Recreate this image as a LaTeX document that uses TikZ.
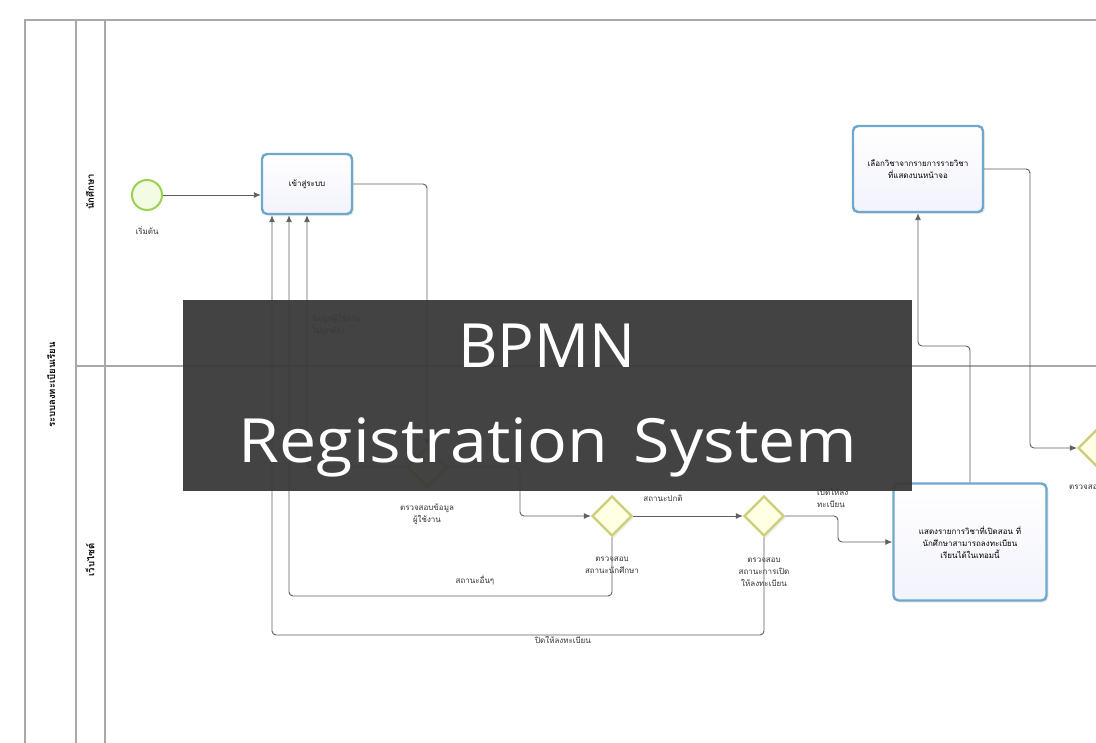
\documentclass[tikz,border=0pt]{standalone}
\usepackage{fontspec}
\setmainfont{Open Sans}
\newfontfamily\thaifont[Script=Thai]{Loma}
\usetikzlibrary{arrows.meta,calc,shadows,shapes.geometric}
\definecolor{poolline}{HTML}{A8A8A8}
\definecolor{flowline}{HTML}{606060}
\definecolor{taskedge}{HTML}{6FA8CC}
\definecolor{taskfill}{HTML}{F2F3FC}
\definecolor{gwedge}{HTML}{CDCD7A}
\definecolor{gwfill}{HTML}{FFFFE4}
\definecolor{evedge}{HTML}{9CD155}
\definecolor{evfill}{HTML}{F3FBE3}
\definecolor{bannerfill}{HTML}{383838}
\tikzset{
  poolstroke/.style={draw=poolline,line width=1.3pt},
  taskbox/.style={draw=taskedge,line width=2.4pt,rounded corners=5pt,
    top color=white,bottom color=taskfill,minimum width=#1,
    drop shadow={shadow xshift=2pt,shadow yshift=-2pt,opacity=0.15},
    align=center,font=\thaifont\fontsize{8}{12}\selectfont,inner sep=2pt},
  gateway/.style={draw=gwedge,line width=2.2pt,fill=gwfill,
    minimum width=40pt,minimum height=40pt,inner sep=0pt,
    shape=diamond,aspect=1,
    drop shadow={shadow xshift=2pt,shadow yshift=-2pt,opacity=0.15}},
  startev/.style={circle,draw=evedge,line width=2pt,fill=evfill,
    minimum size=30pt,inner sep=0pt},
  flow/.style={draw=flowline,line width=0.9pt,rounded corners=4pt,
    -{Latex[length=7pt,width=6pt]}},
  lbl/.style={font=\thaifont\fontsize{8}{12}\selectfont,align=center,
    inner sep=1pt,text=black!80},
  lanelbl/.style={font=\thaifont\bfseries\fontsize{9.5}{11}\selectfont,
    rotate=90,inner sep=0pt},
}
\begin{document}
\begin{tikzpicture}[x=1pt,y=-1pt]
\useasboundingbox (0,0) rectangle (1096,743);
\fill[white] (0,0) rectangle (1096,743);
% pool and lanes
\draw[poolstroke] (25,760) -- (25,20) -- (1110,20);
\draw[poolstroke] (76,20) -- (76,760);
\draw[poolstroke] (105,20) -- (105,760);
\draw[poolstroke] (76,366) -- (1110,366);
\node[lanelbl] (pool) at (51,385) {ระบบลงทะเบียนเรียน};
\node[lanelbl] (lane1) at (90,192) {นักศึกษา};
\node[lanelbl] (lane2) at (90,560) {เว็บไซต์};
% nodes
\node[startev] (s) at (147,195) {};
\node[lbl] (slbl) at (147,230) {เริ่มต้น};
\node[taskbox=90pt,minimum height=60pt] (t1) at (307,184) {เข้าสู่ระบบ};
\node[taskbox=130pt,minimum height=86pt] (b2) at (918,169) {เลือกวิชาจากรายการรายวิชา\\ที่แสดงบนหน้าจอ};
\node[taskbox=153pt,minimum height=117pt] (b3) at (970,542) {แสดงรายการวิชาที่เปิดสอน ที่\\นักศึกษาสามารถลงทะเบียน\\เรียนได้ในเทอมนี้};
\node[gateway] (g1) at (427,467) {};
\node[gateway] (g2) at (612,516) {};
\node[gateway] (g3) at (764,516) {};
\node[gateway] (g4) at (1098,448) {};
\node[lbl] (g1l) at (427,514) {ตรวจสอบข้อมูล\\ผู้ใช้งาน};
\node[lbl] (g2l) at (612,565) {ตรวจสอบ\\สถานะนักศึกษา};
\node[lbl] (g3l) at (764,572) {ตรวจสอบ\\สถานะการเปิด\\ให้ลงทะเบียน};
\node[lbl,anchor=north west] (g4l) at (1068,480) {ตรวจสอบวิชาที่เลือก\\\hspace*{22pt}ไว้};
% bend coordinates
\coordinate (c1) at (520,467);
\coordinate (c2) at (289,596);
\coordinate (c3) at (272,635);
\coordinate (c4) at (838,516);
\coordinate (c5) at (940,346);
\coordinate (c6) at (1030,300);
% flows
\draw[flow] (s.east) -- (s.east -| t1.west);
\draw[flow] (t1.east) -| (g1.north);
\draw[flow] (g1.west) -| (t1.south);
\draw[flow] (g1.east) -- (c1) |- (g2.west);
\draw[flow] (g2.east) -- (g3.west);
\draw[flow] (g2.south) |- (c2) -- (c2 |- t1.south);
\draw[flow] (g3.south) |- (c3) -- (c3 |- t1.south);
\draw[flow] (g3.east) -- (c4) |- (b3.west);
\draw[flow] (b3.north) |- (c5) -| (b2.south);
\draw[flow] (b2.east) -| (c6) |- (g4.west);
% flow labels
\node[lbl,align=left,anchor=west] (f1) at (311,325) {ข้อมูลผู้ใช้งาน\\ไม่ถูกต้อง};
\node[lbl] (f2) at (663,498) {สถานะปกติ};
\node[lbl] (f3) at (475,580) {สถานะอื่นๆ};
\node[lbl] (f4) at (563,640) {ปิดให้ลงทะเบียน};
\node[lbl,align=left,anchor=west] (f5) at (816,498) {เปิดให้ลง\\ทะเบียน};
% banner
\node[fill=bannerfill,fill opacity=0.94,minimum width=729pt,minimum height=191pt,inner sep=0pt] (banner) at (547.5,395.5) {};
\node[text=white,font=\fontsize{61}{70}\selectfont,inner sep=0pt,anchor=base] (bt1) at (547,368) {BPMN};
\node[text=white,font=\fontsize{61}{70}\selectfont,inner sep=0pt,anchor=base] (bt2) at (548,462) {\scalebox{1.085}[1]{Registration\hspace{8pt} System}};
\end{tikzpicture}
\end{document}
